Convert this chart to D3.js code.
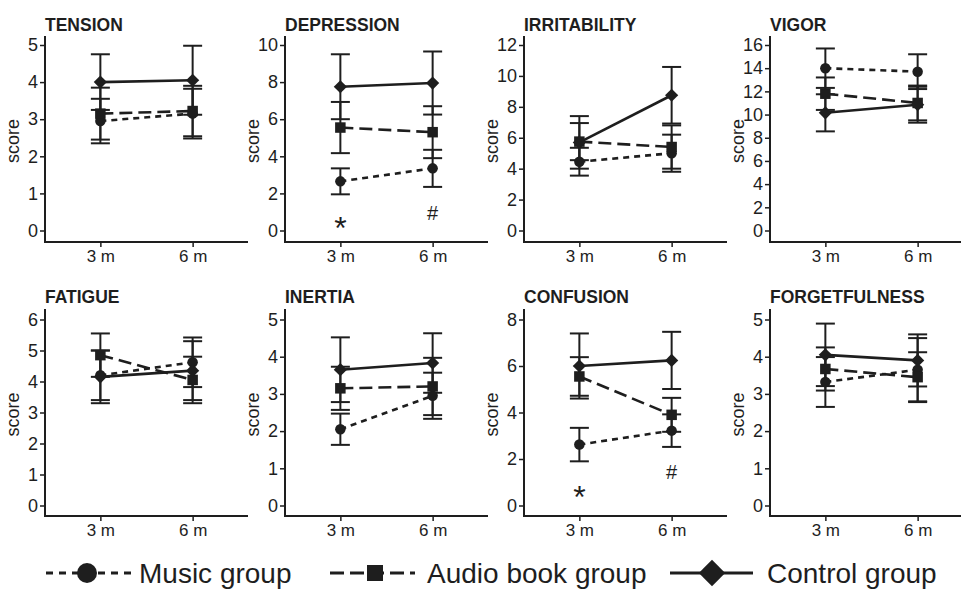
<!DOCTYPE html>
<html>
<head>
<meta charset="utf-8">
<script src="https://cdn.jsdelivr.net/npm/d3@7"></script>
<style>
  html, body { margin: 0; padding: 0; background: #fff; }
  svg { display: block; font-family: "Liberation Sans", Arial, sans-serif; }
</style>
</head>
<body>
<svg id="chart" width="961" height="589"></svg>
<script>
// ---------- data ----------
const panels = ["TENSION", "DEPRESSION", "IRRITABILITY", "VIGOR", "FATIGUE", "INERTIA", "CONFUSION", "FORGETFULNESS"];
const yMax = [5, 10, 12, 16, 6, 5, 8, 5];
const yStep = [1, 2, 2, 2, 1, 1, 2, 1];
const timepoints = ["3 m", "6 m"];
const seriesNames = ["Music group", "Audio book group", "Control group"];

const musicMean   = [[2.95, 3.15], [2.65, 3.35], [4.45, 5.0], [14.0, 13.7], [4.2, 4.62], [2.05, 2.95], [2.62, 3.22], [3.32, 3.65]];
const musicErr    = [[0.6, 0.67], [0.7, 1.0], [0.9, 1.2], [1.7, 1.5], [0.8, 0.8], [0.42, 0.62], [0.72, 0.7], [0.67, 0.85]];
const audioMean   = [[3.15, 3.22], [5.55, 5.3], [5.75, 5.4], [11.8, 11.0], [4.85, 4.05], [3.15, 3.2], [5.55, 3.9], [3.67, 3.45]];
const audioErr    = [[0.7, 0.68], [1.38, 1.4], [1.2, 1.4], [1.4, 1.5], [0.7, 0.75], [0.58, 0.77], [0.83, 0.73], [0.58, 0.67]];
const controlMean = [[4.0, 4.05], [7.75, 7.95], [5.7, 8.75], [10.15, 10.85], [4.15, 4.35], [3.65, 3.83], [6.0, 6.24], [4.05, 3.9]];
const controlErr  = [[0.75, 0.93], [1.75, 1.7], [1.7, 1.83], [1.6, 1.55], [0.85, 0.95], [0.87, 0.8], [1.4, 1.23], [0.84, 0.7]];

// significance marks: [panel index, timepoint, symbol, y value]
const marks = [[1, "3 m", "*", 0.65], [1, "6 m", "#", 0.95], [6, "3 m", "*", 0.76], [6, "6 m", "#", 1.45]];

// ---------- layout ----------
const ink = "#1e1e1e";
const colX = [45, 285, 524, 770];
const rows = [
  { axisTop: 36, zeroY: 230.5, maxY: 45, axisBottom: 242, titleY: 31 },
  { axisTop: 309, zeroY: 505.5, maxY: 319.5, axisBottom: 516, titleY: 303 }
];
const axisLen = 203;

const svg = d3.select("#chart");

const series = [
  { name: seriesNames[0], mean: musicMean, err: musicErr, dash: "6,5", legDash: "7,6", shape: "circle" },
  { name: seriesNames[1], mean: audioMean, err: audioErr, dash: "13,6", legDash: "14,6", shape: "square" },
  { name: seriesNames[2], mean: controlMean, err: controlErr, dash: null, legDash: null, shape: "diamond" }
];

function drawMarker(g, shape, cx, cy, s) {
  if (shape === "circle") {
    g.append("circle").attr("cx", cx).attr("cy", cy).attr("r", s * 0.5).attr("fill", ink);
  } else if (shape === "square") {
    g.append("rect").attr("x", cx - s * 0.5).attr("y", cy - s * 0.5).attr("width", s).attr("height", s).attr("fill", ink);
  } else {
    const h = s * 0.66;
    g.append("path").attr("d", `M${cx},${cy - h}L${cx + h},${cy}L${cx},${cy + h}L${cx - h},${cy}Z`).attr("fill", ink);
  }
}

panels.forEach((title, pi) => {
  const row = rows[Math.floor(pi / 4)];
  const x0 = colX[pi % 4];
  const g = svg.append("g");

  const x = d3.scalePoint().domain(timepoints).range([x0, x0 + axisLen]).padding(0.6);
  const y = d3.scaleLinear().domain([0, yMax[pi]]).range([row.zeroY, row.maxY]);

  // title
  g.append("text").attr("x", x0).attr("y", row.titleY)
    .attr("font-size", 17.5).attr("font-weight", "bold").attr("fill", ink).text(title);

  // y axis
  const yAxis = d3.axisLeft(y).tickValues(d3.range(0, yMax[pi] + 0.001, yStep[pi]))
    .tickFormat(d3.format("d")).tickSize(5).tickPadding(2).tickSizeOuter(0);
  const ya = g.append("g").attr("transform", `translate(${x0},0)`).call(yAxis);
  ya.select(".domain").remove();
  ya.selectAll(".tick line").attr("stroke", ink).attr("stroke-width", 1.5);
  ya.selectAll(".tick text").attr("font-size", 18).attr("fill", ink).attr("font-family", null);
  g.append("line").attr("x1", x0).attr("x2", x0).attr("y1", row.axisTop).attr("y2", row.axisBottom)
    .attr("stroke", ink).attr("stroke-width", 2);

  // x axis
  const xAxis = d3.axisBottom(x).tickSize(5).tickPadding(3).tickSizeOuter(0);
  const xa = g.append("g").attr("transform", `translate(0,${row.axisBottom})`).call(xAxis);
  xa.select(".domain").remove();
  xa.selectAll(".tick line").attr("stroke", ink).attr("stroke-width", 1.5);
  xa.selectAll(".tick text").attr("font-size", 17).attr("fill", ink).attr("font-family", null);
  g.append("line").attr("x1", x0 - 1).attr("x2", x0 + axisLen).attr("y1", row.axisBottom).attr("y2", row.axisBottom)
    .attr("stroke", ink).attr("stroke-width", 2);

  // y label
  const midY = (row.axisTop + row.axisBottom) / 2;
  g.append("text").attr("transform", `translate(${x0 - 26},${midY + 2}) rotate(-90)`)
    .attr("text-anchor", "middle").attr("font-size", 18).attr("fill", ink).text("score");

  // error bars
  series.forEach(s => {
    timepoints.forEach((t, ti) => {
      const m = s.mean[pi][ti], e = s.err[pi][ti];
      const cx = x(t);
      g.append("line").attr("x1", cx).attr("x2", cx).attr("y1", y(m - e)).attr("y2", y(m + e))
        .attr("stroke", ink).attr("stroke-width", 2);
      [m - e, m + e].forEach(v => {
        g.append("line").attr("x1", cx - 9.5).attr("x2", cx + 9.5).attr("y1", y(v)).attr("y2", y(v))
          .attr("stroke", ink).attr("stroke-width", 2);
      });
    });
  });

  // lines
  series.forEach(s => {
    const pts = timepoints.map((t, ti) => [x(t), y(s.mean[pi][ti])]);
    g.append("path").attr("d", d3.line()(pts)).attr("fill", "none").attr("stroke", ink)
      .attr("stroke-width", 2.6).attr("stroke-dasharray", s.dash);
  });

  // markers
  series.forEach(s => {
    timepoints.forEach((t, ti) => {
      drawMarker(g, s.shape, x(t), y(s.mean[pi][ti]), s.shape === "diamond" ? 10 : 10.5);
    });
  });

  // significance marks
  marks.filter(mk => mk[0] === pi).forEach(mk => {
    const isStar = mk[2] === "*";
    g.append("text").attr("x", x(mk[1])).attr("y", y(mk[3]))
      .attr("text-anchor", "middle").attr("dominant-baseline", "central")
      .attr("font-size", isStar ? 32 : 20).attr("fill", ink)
      .attr("dy", isStar ? "0.3em" : 0).text(mk[2]);
  });
});

// ---------- legend ----------
const legY = 573;
const legend = [
  { x1: 46, x2: 135, mx: 87, tx: 139 },
  { x1: 330, x2: 415, mx: 375, tx: 427 },
  { x1: 670, x2: 753, mx: 712, tx: 767 }
];
series.forEach((s, i) => {
  const L = legend[i];
  const lg = svg.append("g");
  lg.append("line").attr("x1", L.x1).attr("x2", L.x2).attr("y1", legY).attr("y2", legY)
    .attr("stroke", ink).attr("stroke-width", 3).attr("stroke-dasharray", s.legDash);
  drawMarker(lg, s.shape, L.mx, legY, s.shape === "circle" ? 20 : (s.shape === "square" ? 16 : 20));
  lg.append("text").attr("x", L.tx).attr("y", legY + 10).attr("font-size", 28).attr("fill", ink).text(s.name);
});
</script>
</body>
</html>
